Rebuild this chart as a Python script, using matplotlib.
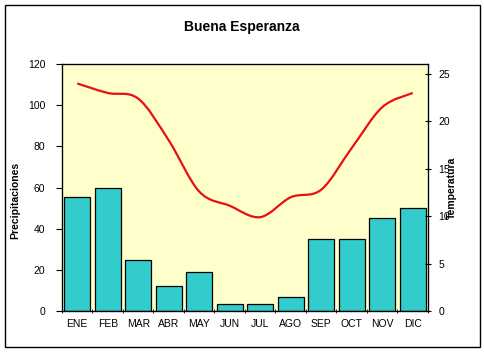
import numpy as np
import matplotlib
matplotlib.use("Agg")
import matplotlib.pyplot as plt
from matplotlib.path import Path
from matplotlib.patches import PathPatch, Rectangle

plt.rcParams['font.family'] = ['Liberation Sans', 'DejaVu Sans']

months = ["ENE", "FEB", "MAR", "ABR", "MAY", "JUN", "JUL", "AGO", "SEP", "OCT", "NOV", "DIC"]
precip = [55.5, 60, 24.8, 12.1, 18.8, 3.3, 3.3, 6.8, 35, 35, 45, 50]
temp = [24.0, 23.0, 22.4, 18.0, 12.6, 11.1, 9.9, 12.0, 12.8, 17.2, 21.5, 23.0]

fig = plt.figure(figsize=(4.85, 3.52), dpi=100)
fig.patch.set_facecolor("white")
fig.patches.append(Rectangle((5 / 485, 5 / 352), 475 / 485, 342 / 352, transform=fig.transFigure,
                             fill=False, edgecolor="black", linewidth=1))

ax = fig.add_axes([62 / 485, 1 - 311 / 352, 366 / 485, 247 / 352])
ax.set_facecolor("#FFFFCC")
x = np.arange(len(months))
ax.bar(x, precip, width=0.85, color="#33CCCC", edgecolor="black", linewidth=0.9, zorder=2)
ax.set_xlim(-0.5, 11.5)
ax.set_ylim(0, 120)
ax.set_yticks(range(0, 121, 20))
ax.set_xticks(x)
ax.set_xticklabels(months, fontsize=7.5)
ax.tick_params(axis="x", which="major", length=0, pad=6)
ax.set_xticks(np.arange(-0.5, 12, 1), minor=True)
ax.tick_params(axis="x", which="minor", length=3, direction="inout")
ax.tick_params(axis="y", labelsize=7.5, length=4, direction="out", pad=8)
for s in ax.spines.values():
    s.set_linewidth(0.9)
fig.text(15 / 485, 1 - 200 / 352, "Precipitaciones", rotation=90, fontsize=7.5, fontweight="bold",
         ha="center", va="center")

ax2 = ax.twinx()
ax2.set_ylim(0, 25 * 247 / 237)
ax2.set_yticks(range(0, 26, 5))
ax2.tick_params(axis="y", labelsize=7.5, length=5, direction="inout", pad=5)
fig.text(452 / 485, 1 - 188 / 352, "Temperatura", rotation=90, fontsize=7.5, fontweight="bold",
         ha="center", va="center")

# smoothed line (Catmull-Rom -> cubic Bezier control points)
pts = np.column_stack([x, temp]).astype(float)
verts = [tuple(pts[0])]
codes = [Path.MOVETO]
n = len(pts)
for i in range(n - 1):
    p0 = pts[i - 1] if i > 0 else pts[i]
    p1, p2 = pts[i], pts[i + 1]
    p3 = pts[i + 2] if i + 2 < n else pts[i + 1]
    c1 = p1 + (p2 - p0) / 6
    c2 = p2 - (p3 - p1) / 6
    verts += [tuple(c1), tuple(c2), tuple(p2)]
    codes += [Path.CURVE4] * 3
ax2.add_patch(PathPatch(Path(verts, codes), fill=False, edgecolor="#E81010", linewidth=1.6, zorder=3))

fig.text(242 / 485, 1 - 27 / 352, "Buena Esperanza", fontsize=10, fontweight="bold", ha="center", va="center")

fig.savefig("out.png", dpi=100)
